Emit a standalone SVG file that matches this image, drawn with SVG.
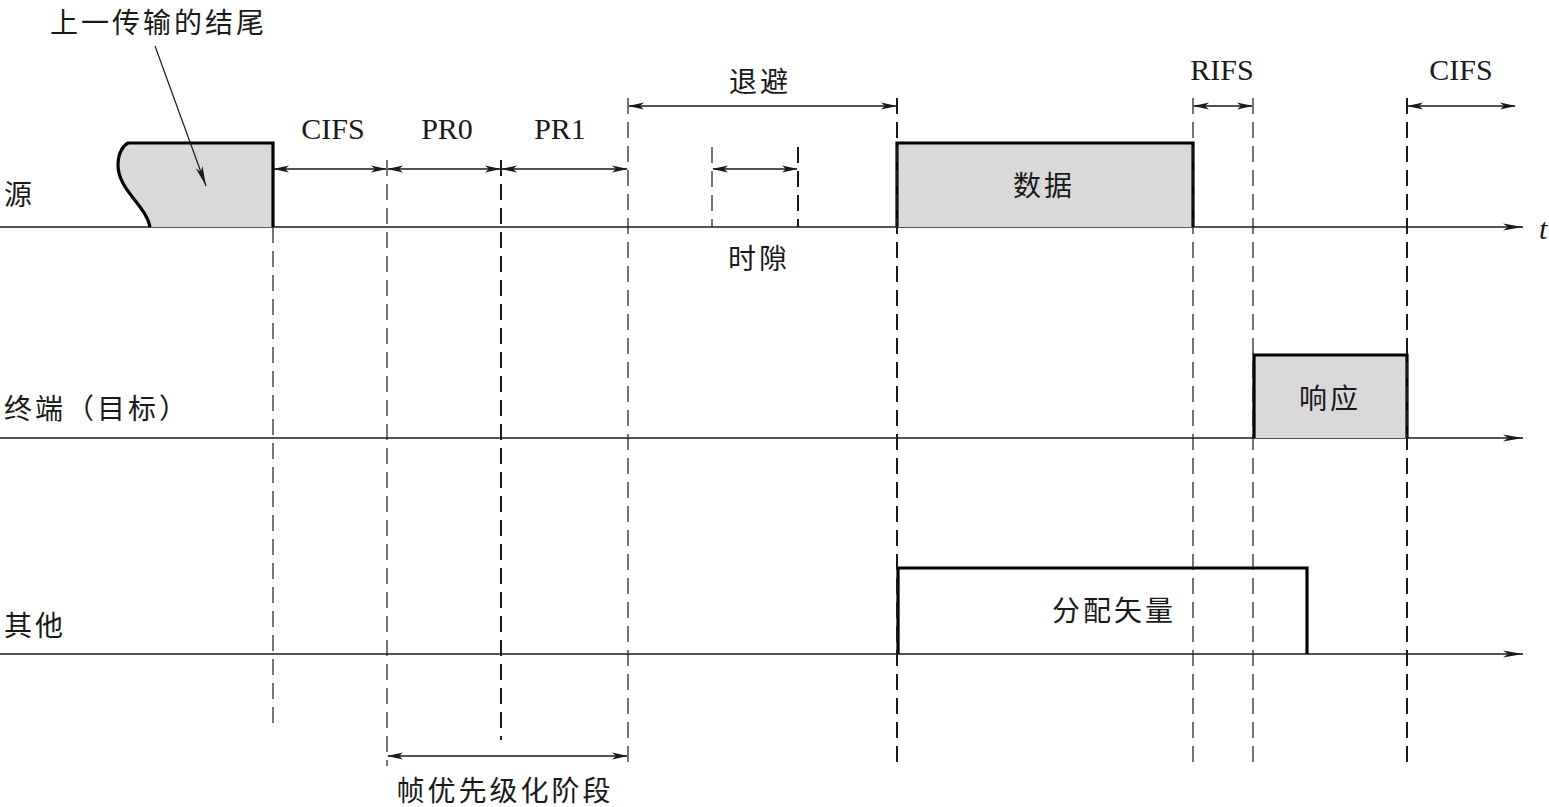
<svg xmlns="http://www.w3.org/2000/svg" width="1549" height="807" viewBox="0 0 1549 807">
<style>
.cjk{font-family:"Noto Sans CJK SC","Noto Sans CJK JP",sans-serif;font-size:28px;fill:#1a1a1a;letter-spacing:3px}
.lat{font-family:"Liberation Serif","Times New Roman",serif;font-size:30px;fill:#1a1a1a}
.axis{stroke:#1a1a1a;stroke-width:1.6;fill:none}
.dash{stroke:#1a1a1a;stroke-width:1.2;stroke-dasharray:16 8;fill:none}
.dashb{stroke:#1a1a1a;stroke-width:2;stroke-dasharray:16 8;fill:none}
.dim{stroke:#1a1a1a;stroke-width:1.3;fill:none;marker-start:url(#ah);marker-end:url(#ah)}
.blk{stroke:#000;stroke-width:3.2}
</style>
<defs>
<marker id="ah" viewBox="0 0 16 8" refX="15" refY="4" markerWidth="16" markerHeight="8" markerUnits="userSpaceOnUse" orient="auto-start-reverse">
<path d="M0,0.5 L16,4 L0,7.5 L4,4 z" fill="#1a1a1a"/>
</marker>
<marker id="tip" viewBox="0 0 20 8" refX="20" refY="4" markerWidth="20" markerHeight="8" markerUnits="userSpaceOnUse" orient="auto">
<path d="M0,0.5 L20,4 L0,7.5 L5,4 z" fill="#1a1a1a"/>
</marker>
</defs>

<g id="axes">
<line class="axis" x1="0" y1="227" x2="1523" y2="227" marker-end="url(#tip)"/>
<line class="axis" x1="0" y1="438" x2="1523" y2="438" marker-end="url(#tip)"/>
<line class="axis" x1="0" y1="654" x2="1523" y2="654" marker-end="url(#tip)"/>
</g>

<g id="prev-block">
<path d="M273,227 L150,227 C146,205 118,190 118,165 C118,152 124,145 128,143 L273,143 Z" fill="#d9d9d9" stroke="none"/>
<path class="blk" d="M150,227 C146,205 118,190 118,165 C118,152 124,145 128,143 L273,143 L273,227" fill="none"/>
</g>

<g id="data-block">
<path d="M897,227 L897,143 L1193,143 L1193,227" fill="#d9d9d9" class="blk"/>
<text class="cjk" x="1044" y="196" text-anchor="middle">数据</text>
</g>

<g id="resp-block">
<path d="M1254,438 L1254,355 L1407,355 L1407,438" fill="#d9d9d9" class="blk"/>
<text class="cjk" x="1330" y="409" text-anchor="middle">响应</text>
</g>

<g id="nav-block">
<path d="M898,654 L898,568 L1307,568 L1307,654" fill="none" class="blk"/>
<text class="cjk" x="1114" y="621" text-anchor="middle">分配矢量</text>
</g>

<g id="connectors">
<line class="dash" x1="273" y1="227" x2="273" y2="731"/>
<line class="dash" x1="387" y1="160" x2="387" y2="766"/>
<line class="dashb" x1="501" y1="160" x2="501" y2="740"/>
<line class="dash" x1="628" y1="98" x2="628" y2="766"/>
<line class="dash" x1="712" y1="147" x2="712" y2="227" stroke-dasharray="60 6 20"/>
<line class="dashb" x1="798" y1="147" x2="798" y2="227" stroke-dasharray="52 8 16"/>
<line class="dashb" x1="897" y1="98" x2="897" y2="766"/>
<line class="dash" x1="1193" y1="98" x2="1193" y2="766"/>
<line class="dash" x1="1253" y1="98" x2="1253" y2="766"/>
<line class="dashb" x1="1407" y1="98" x2="1407" y2="766"/>

<line class="dim" x1="274" y1="169" x2="386" y2="169"/>
<line class="dim" x1="388" y1="169" x2="500" y2="169"/>
<line class="dim" x1="502" y1="169" x2="627" y2="169"/>
<line class="dim" x1="629" y1="106" x2="896" y2="106"/>
<line class="dim" x1="713" y1="169" x2="797" y2="169"/>
<line class="dim" x1="1194" y1="106" x2="1252" y2="106"/>
<line class="dim" x1="1408" y1="106" x2="1515" y2="106"/>
<line class="dim" x1="388" y1="756" x2="627" y2="756"/>

<line x1="155" y1="46" x2="206" y2="186" stroke="#1a1a1a" stroke-width="1.2" marker-end="url(#tip)"/>
</g>

<g id="labels">
<text class="cjk" x="50" y="33">上一传输的结尾</text>
<text class="cjk" x="4" y="205">源</text>
<text class="cjk" x="4" y="419">终端（目标）</text>
<text class="cjk" x="4" y="636">其他</text>
<text class="lat" x="333" y="139" text-anchor="middle">CIFS</text>
<text class="lat" x="447" y="139" text-anchor="middle">PR0</text>
<text class="lat" x="560" y="139" text-anchor="middle">PR1</text>
<text class="cjk" x="760" y="92" text-anchor="middle">退避</text>
<text class="cjk" x="759" y="269" text-anchor="middle">时隙</text>
<text class="lat" x="1222" y="80" text-anchor="middle">RIFS</text>
<text class="lat" x="1461" y="80" text-anchor="middle">CIFS</text>
<text class="lat" x="1539" y="239" font-style="italic">t</text>
<text class="cjk" x="505" y="801" text-anchor="middle">帧优先级化阶段</text>
</g>
</svg>
